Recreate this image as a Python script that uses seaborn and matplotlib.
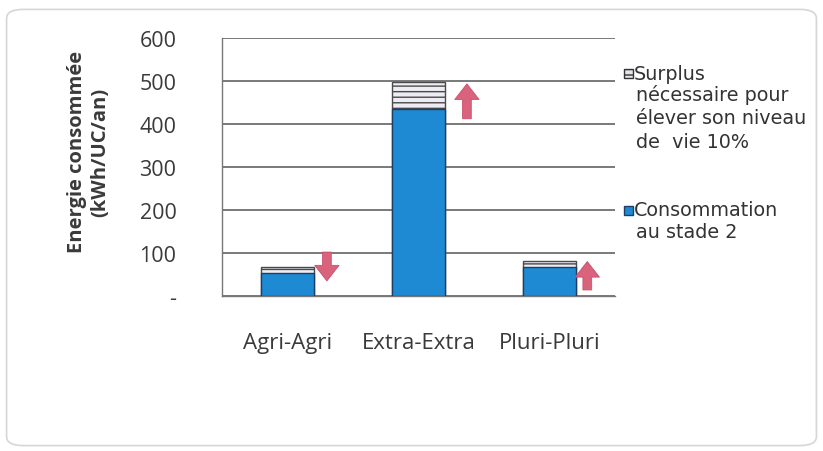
import matplotlib
matplotlib.use("Agg")
import matplotlib.pyplot as plt
from matplotlib.patches import FancyBboxPatch, Rectangle
import numpy as np
import pandas as pd
import seaborn as sns

# Data
categories = ["Agri-Agri", "Extra-Extra", "Pluri-Pluri"]
consommation = [53, 435, 67]      # Consommation au stade 2
surplus = [14, 63, 14]            # Surplus pour élever le niveau de vie de 10 %
yticks = [0, 100, 200, 300, 400, 500, 600]
ytick_labels = ["-", "100", "200", "300", "400", "500", "600"]

total = [c + s for c, s in zip(consommation, surplus)]
df = pd.DataFrame({"cat": categories, "conso": consommation, "total": total})

sns.set_theme(style="white")
plt.rcParams["font.family"] = ["Open Sans", "DejaVu Sans"]

fig = plt.figure(figsize=(8.23, 4.52), dpi=100)
fig.patch.set_facecolor("white")
card = FancyBboxPatch((0.008, 0.012), 0.984, 0.965, boxstyle="round,pad=0,rounding_size=0.02",
                      transform=fig.transFigure, facecolor="white", edgecolor="#d6d6d6",
                      linewidth=1.2, zorder=-5)
fig.patches.append(card)

ax = fig.add_axes([0.270, 0.343, 0.477, 0.571])
ax.set_facecolor("none")

blue = "#1f8ad4"
sns.barplot(data=df, x="cat", y="total", order=categories, color="#ececf2", saturation=1,
            width=0.41, edgecolor="#4a4a4a", linewidth=1.0, hatch="---", ax=ax, zorder=3)
sns.barplot(data=df, x="cat", y="conso", order=categories, color=blue, saturation=1,
            width=0.41, edgecolor="#1b3f66", linewidth=1.0, ax=ax, zorder=4)

ax.set_xlim(-0.5, 2.5)
ax.set_ylim(0, 600)
ax.set_yticks(yticks)
ax.set_yticklabels(ytick_labels, fontsize=15.5, color="#3a3a3a")
ax.set_xticks(range(len(categories)))
ax.set_xticklabels(categories, fontsize=16, color="#3a3a3a")
ax.tick_params(axis="x", length=0, pad=26)
ax.set_xticks([-0.5, 0.5, 1.5, 2.5], minor=True)
ax.tick_params(axis="x", which="minor", length=5, width=1, color="#666666", direction="out")
ax.tick_params(axis="y", length=8, width=1, color="#666666", direction="inout", pad=29)
for lbl in ax.get_yticklabels():
    lbl.set_horizontalalignment("right")
ax.set_xlabel("")
ax.set_ylabel("Energie consommée\n(kWh/UC/an)", fontsize=14.5, fontweight="bold",
              color="#3a3a3a", linespacing=1.25)
ax.yaxis.set_label_coords(-0.285, 0.56)
ax.yaxis.grid(True, color="#555555", linewidth=1.1, zorder=0)
ax.set_axisbelow(True)
for side in ["top", "right"]:
    ax.spines[side].set_visible(False)
ax.spines["left"].set_color("#777777")
ax.spines["bottom"].set_color("#777777")
ax.spines["left"].set_linewidth(1.0)
ax.spines["bottom"].set_linewidth(1.0)

# Direction arrows beside each bar
arrow_x = [0.30, 1.37, 2.29]
arrow_from = [102, 412, 14]
arrow_to = [35, 493, 80]
for x, y0, y1 in zip(arrow_x, arrow_from, arrow_to):
    ax.annotate("", xy=(x, y1), xytext=(x, y0),
                arrowprops=dict(arrowstyle="simple,head_length=0.8,head_width=1.25,tail_width=0.45",
                                mutation_scale=14, facecolor="#d9627c", edgecolor="#c9506c",
                                linewidth=0.6, shrinkA=0, shrinkB=0), zorder=6)

# Legend on the right
leg_font = dict(fontsize=13.8, color="#333333", family=["DejaVu Sans"])
def fx(px):
    return px / 823
def fy(py):
    return 1 - py / 452

fig.patches.append(Rectangle((fx(624), fy(79)), fx(9), 9 / 452, transform=fig.transFigure,
                             facecolor="#e4e4ea", edgecolor="#333333", hatch="---", linewidth=1.0))
fig.text(fx(634), fy(74), "Surplus", va="center", ha="left", **leg_font)
fig.text(fx(636), fy(85), "nécessaire pour\nélever son niveau\nde  vie 10%", va="top", ha="left",
         linespacing=1.3, **leg_font)
fig.patches.append(Rectangle((fx(624), fy(216)), fx(9), 9 / 452, transform=fig.transFigure,
                             facecolor=blue, edgecolor="#1b3f66", linewidth=1.0))
fig.text(fx(634), fy(211), "Consommation", va="center", ha="left", **leg_font)
fig.text(fx(636), fy(223), "au stade 2", va="top", ha="left", **leg_font)

fig.savefig("out.png", dpi=100)
